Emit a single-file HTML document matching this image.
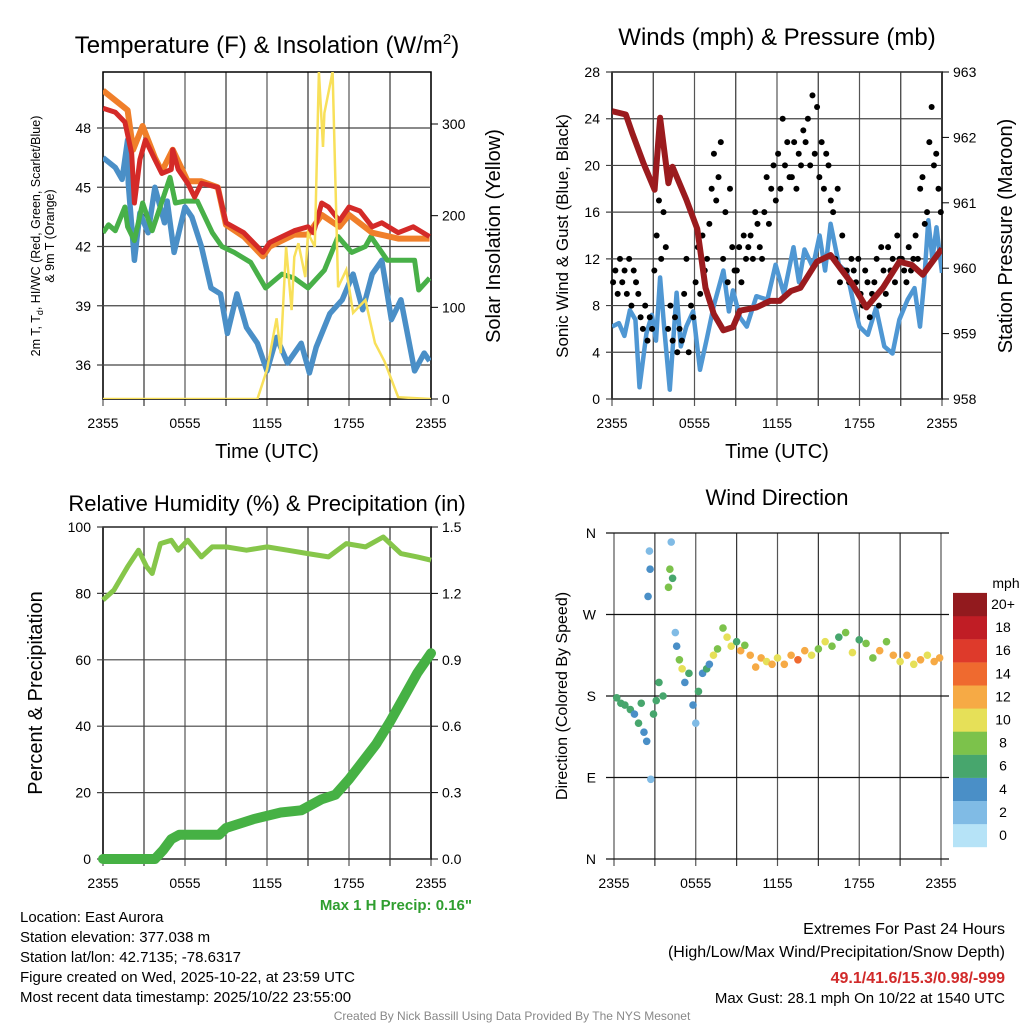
<!DOCTYPE html>
<html><head><meta charset="utf-8">
<style>
body{margin:0;background:#fff;}
svg{display:block;font-family:"Liberation Sans",sans-serif;}
</style></head>
<body>
<svg id="chart" width="1024" height="1024" xmlns="http://www.w3.org/2000/svg"></svg>
<script>
// ---------- DATA ----------
const timeTicks = ["2355","0555","1155","1755","2355"];
// Panel 1
const redHours = [0,0.9,1.6,2.1,2.3,2.7,3.1,3.8,4.3,5.0,5.1,5.5,6.2,6.7,7.2,8.4,9.0,10.3,11.7,12.2,14.0,15.0,15.4,16.0,16.5,17.3,18.0,18.8,19.7,20.4,21.6,22.7,23.9];
const tempRed = [49.0,48.8,48.3,46.7,44.2,46.4,47.4,46.4,45.7,45.9,46.9,45.9,45.2,44.5,45.2,45.0,43.2,42.7,41.7,42.2,42.8,43.0,42.7,44.2,44.0,43.3,44.0,43.8,43.0,43.2,42.7,43.0,42.5];
const orHours = [0,1.8,2.2,2.9,3.8,4.3,5.1,6.2,7.2,8.4,9.0,10.3,11.7,12.2,14.0,15.0,16.0,17.3,18.0,19.7,21.6,23.9];
const tempOrange = [49.9,48.9,46.9,48.1,46.5,45.8,46.9,45.3,45.3,45.0,43.1,42.5,41.5,42.0,42.6,42.6,43.6,43.0,43.6,42.7,42.4,42.4];
const greenHours = [0,0.4,0.9,1.6,1.8,2.3,2.9,3.6,4.9,5.3,6.0,6.9,8.0,8.7,9.6,10.8,11.9,13.1,14.0,15.0,16.2,17.2,18.2,19.2,19.6,20.8,22.8,23.1,23.9];
const dewGreen = [42.7,43.1,42.8,44.0,43.0,42.3,44.2,42.8,45.5,44.2,44.3,44.3,42.7,42.0,41.7,41.2,39.9,40.6,40.4,39.9,40.8,42.5,41.7,42.0,42.5,41.3,41.3,39.8,40.4];
const blueHours = [0,0.9,1.4,1.8,1.85,2.3,2.7,3.3,3.8,4.5,4.7,5.2,6.0,6.5,7.2,7.9,8.6,9.1,9.8,10.5,11.3,12.0,12.7,13.5,14.5,15.1,15.6,16.6,17.5,18.3,19.0,19.7,20.4,21.1,21.8,22.8,23.5,23.9];
const hiwcBlue = [46.5,46.0,45.4,47.4,45.2,41.3,43.7,42.7,45.0,43.2,44.3,41.7,44.0,43.5,42.0,39.9,39.6,37.6,39.6,37.9,37.1,35.7,37.4,36.1,37.1,35.6,36.9,38.6,39.3,40.6,38.8,40.6,41.3,38.3,39.3,35.7,36.6,36.2];
const solHours = [0,11.3,12.0,12.7,13.0,13.4,13.8,14.0,14.3,14.8,15.0,15.5,15.8,16.1,16.2,16.8,17.2,17.8,18.3,19.2,19.9,20.6,21.6,24.0];
const solar = [0,0,32,88,50,166,97,155,170,133,181,166,357,275,312,357,122,141,94,108,61,41,2,0];
// Panel 2
const windHours = [0,0.5,0.9,1.3,1.7,2.0,2.5,2.9,3.2,3.5,3.8,4.2,4.7,5.0,5.4,5.9,6.4,6.9,7.4,8.1,8.5,8.8,9.3,9.8,10.5,11.3,11.9,12.5,13.2,13.6,14.0,14.6,15.1,15.5,15.9,16.5,17.1,17.6,18.0,18.6,19.2,19.8,20.4,20.9,21.5,22.0,22.4,22.7,23.0,23.3,23.6,24.0];
const windSpd = [6.2,6.5,5.4,7.6,6.8,1.0,5.6,7.2,5.0,10.4,6.0,0.8,9.1,4.5,6.2,7.5,2.5,5.2,8.0,11.0,7.5,9.3,7.0,6.2,8.8,8.5,11.5,9.0,13.0,10.0,12.8,11.3,14.0,11.0,15.0,11.5,10.8,8.0,6.2,5.5,7.8,4.5,3.9,6.8,8.5,9.5,6.2,10.0,15.3,12.0,14.7,10.8];
const gust = [10,11,9,12,10,11, 9,12,8,11,10,9, 7,6,8,5,7,6, 11,14,17,12,16,13, 6,8,5,7,4,6, 5,9,12,4,8,7, 10,13,9,14,11,12, 15,18,21,17,19,22, 12,16,10,18,13,11, 11,13,10,14,12,13, 14,12,16,15,13,12, 16,19,15,18,20,17, 21,18,24,20,22,19, 19,22,18,21,20,23, 22,24,20,26,21,25, 19,22,18,21,20,17, 16,12,18,10,14,11, 11,10,12,11,10,12, 9,8,11,10,7,9, 10,12,8,13,11,9, 13,11,12,10,14,12, 12,11,10,13,11,12, 14,12,18,19,15,16, 22,25,20,21,18,16];
const presHours = [0,1.0,1.5,2.3,3.1,3.5,4.1,4.4,5.4,6.2,6.8,7.4,8.1,8.8,9.3,10.5,11.5,12.2,13.0,13.7,14.9,15.9,16.6,17.5,18.5,19.7,20.9,21.8,22.6,23.3,24.0];
const pressure = [962.4,962.35,962.05,961.6,961.2,962.3,961.3,961.55,961.05,960.6,959.7,959.3,959.05,959.1,959.35,959.4,959.5,959.5,959.65,959.7,960.1,960.2,960.0,959.75,959.4,959.7,960.1,960.05,959.9,960.1,960.3];
// Panel 3
const rhHours = [0,0.8,1.8,2.6,3.2,3.6,4.2,5.0,5.5,6.2,7.2,8.0,9.0,10.5,12.0,13.5,15.0,16.5,17.8,19.2,20.5,21.8,23.0,24.0];
const rh = [78,81,88,93,88,86,95,96,93,96,91,94,94,93,94,93,92,91,95,94,97,92,91,90];
const prHours = [0,3.8,4.4,5.0,5.6,6.5,8.5,9.0,11.0,13.0,14.5,16.0,17.0,18.0,19.0,20.0,21.0,22.0,23.0,24.0];
const precip = [0,0,0.04,0.09,0.11,0.11,0.11,0.14,0.18,0.21,0.22,0.27,0.29,0.36,0.44,0.52,0.62,0.73,0.84,0.93];
// Panel 4
const dirHours = [0.2,0.5,0.8,1.2,1.5,1.8,2.0,2.2,2.4,2.5,2.6,2.65,2.7,2.9,3.1,3.3,3.6,4.0,4.1,4.2,4.3,4.5,4.6,4.8,5.0,5.2,5.5,5.8,6.0,6.2,6.5,6.8,7.0,7.3,7.6,8.0,8.3,8.6,9.0,9.3,9.6,10.0,10.4,10.8,11.2,11.6,12.0,12.5,13.0,13.5,14.0,14.5,15.0,15.5,16.0,16.5,17.0,17.5,18.0,18.5,19.0,19.5,20.0,20.5,21.0,21.5,22.0,22.5,23.0,23.5,23.9];
const dirDeg = [178,172,170,165,160,150,172,140,130,290,340,320,88,160,175,195,180,300,320,350,310,250,235,220,210,195,205,170,150,185,205,210,215,225,232,255,245,235,240,230,236,225,212,222,218,215,222,215,225,220,230,225,232,240,235,245,250,228,242,238,222,230,240,225,218,225,215,220,225,218,222];
const dirSpd = [6,6,5,6,4,5,6,4,4,4,2,4,1,6,6,6,6,7,8,2,6,2,4,7,9,4,6,4,2,6,4,6,4,9,7,8,10,9,6,11,8,12,12,11,9,12,10,12,11,13,12,9,7,10,8,6,8,9,5,8,8,12,8,11,9,12,10,12,10,11,12];
const cbLabels = ["0","2","4","6","8","10","12","14","16","18","20+"];
const cbColors = ["#b6e3f7","#80bbe5","#4a8fc7","#47a66d","#7cc24b","#e6e058","#f6aa45","#ef6a2f","#de3a2b","#c01d25","#921a1e"];

// ---------- HELPERS ----------
const NS="http://www.w3.org/2000/svg";
const svg=document.getElementById('chart');
function el(tag,attrs,parent){const e=document.createElementNS(NS,tag);for(const k in attrs)e.setAttribute(k,attrs[k]);(parent||svg).appendChild(e);return e;}
function txt(s,x,y,size,anchor,extra){const t=el('text',Object.assign({x:x,y:y,'font-size':size,'text-anchor':anchor||'middle',fill:'#000'},extra||{}));t.textContent=s;return t;}
function lin(d0,d1,p0,p1){return v=>p0+(v-d0)/(d1-d0)*(p1-p0);}
function pathD(xs,ys,fx,fy){return xs.map((h,i)=>(i?'L':'M')+fx(h).toFixed(1)+','+fy(ys[i]).toFixed(1)).join('');}

function frame(x0,x1,y0,y1,name,box){
  const g=el('g',{});
  
  
  const fx=lin(0,24,x0,x1);
  for(let h=0;h<=24;h+=3){const l=el('line',{x1:fx(h),x2:fx(h),y1:y0,y2:y1+7,stroke:h%6==0?'#555':'#333','stroke-width':1.2},g);
    }
  timeTicks.forEach((s,i)=>{const t=txt(s,fx(i*6),y1+29,14);});
  if(box){const r=el('rect',{x:x0,y:y0,width:x1-x0,height:y1-y0,fill:'none',stroke:'#000','stroke-width':1.5},g);}
  return fx;
}
function yAxis(vals,fy,x0,x1,side,name,fmt){
  vals.forEach(v=>{
    if(side==='left'){const l=el('line',{x1:x0-6,x2:x1,y1:fy(v),y2:fy(v),stroke:'#444','stroke-width':1.2});
      const t=txt(fmt?fmt(v):String(v),x0-12,fy(v)+5,14,'end');}
    else{const l=el('line',{x1:x1,x2:x1+7,y1:fy(v),y2:fy(v),stroke:'#000','stroke-width':1});
      const t=txt(fmt?fmt(v):String(v),x1+11,fy(v)+5,14,'start');}
  });
}
function rotLabel(s,x,y,size,name){const t=txt(s,x,y,size,'middle',{transform:`rotate(-90 ${x} ${y})`});return t;}

// ---------- PANEL 1 ----------
{
const X0=103,X1=431,Y0=72,Y1=399;
const fx=frame(X0,X1,Y0,Y1,'temperature-panel',true);
const fy=lin(36,48,365,128), fs=lin(0,300,399,124);
yAxis([36,39,42,45,48],fy,X0,X1,'left','temp-tick-label');
yAxis([0,100,200,300],fs,X0,X1,'right','solar-tick-label');
el('clipPath',{id:'c1'}).appendChild(el('rect',{x:X0,y:Y0,width:X1-X0,height:Y1-Y0}));
const series=[[blueHours,hiwcBlue,'#4a8fc7',5.5,'hiwc-line'],[greenHours,dewGreen,'#48b048',5,'dewpoint-line'],[orHours,tempOrange,'#f07f2a',6,'temp-9m-line'],[redHours,tempRed,'#d42a28',5,'temp-2m-line']];
series.forEach(s=>{const p=el('path',{d:pathD(s[0],s[1],fx,fy),fill:'none',stroke:s[2],'stroke-width':s[3],'stroke-linejoin':'round','clip-path':'url(#c1)'});});
const ps=el('path',{d:pathD(solHours,solar,fx,fs),fill:'none',stroke:'#f8e05a','stroke-width':2.5,'clip-path':'url(#c1)'});

const t1=el('text',{x:267,y:53,'font-size':24,'text-anchor':'middle'});t1.innerHTML='Temperature (F) &amp; Insolation (W/m<tspan dy="-9" font-size="15">2</tspan><tspan dy="9">)</tspan>';

const la=el('text',{x:40,y:236,'font-size':12.5,'text-anchor':'middle',transform:'rotate(-90 40 236)'});la.innerHTML='2m T, T<tspan dy="3" font-size="9">d</tspan><tspan dy="-3">, HI/WC (Red, Green, Scarlet/Blue)</tspan>';

rotLabel('& 9m T (Orange)',54,236,12.5,'temp-y-axis-title-2');
rotLabel('Solar Insolation (Yellow)',500,236,20,'solar-y-axis-title');
const xl=txt('Time (UTC)',267,458,20);
}
// ---------- PANEL 2 ----------
{
const X0=612,X1=942,Y0=72,Y1=399;
const fx=frame(X0,X1,Y0,Y1,'wind-panel',true);
const fy=lin(0,28,399,72), fp=lin(958,963,399,72);
yAxis([0,4,8,12,16,20,24,28],fy,X0,X1,'left','wind-tick-label');
yAxis([958,959,960,961,962,963],fp,X0,X1,'right','pressure-tick-label');
el('clipPath',{id:'c2'}).appendChild(el('rect',{x:X0,y:Y0,width:X1-X0,height:Y1-Y0}));
const pw=el('path',{d:pathD(windHours,windSpd,fx,fy),fill:'none',stroke:'#4f97d3','stroke-width':4.5,'stroke-linejoin':'round','clip-path':'url(#c2)'});

gust.forEach((g,i)=>{const c=el('circle',{cx:fx(i/6+0.08),cy:fy(g),r:3,fill:'#000'});});
const pp=el('path',{d:pathD(presHours,pressure,fx,fp),fill:'none',stroke:'#9b1b1e','stroke-width':6,'stroke-linejoin':'round','clip-path':'url(#c2)'});

const t=txt('Winds (mph) & Pressure (mb)',777,45,24);
rotLabel('Sonic Wind & Gust (Blue, Black)',568,236,17,'wind-y-axis-title');
rotLabel('Station Pressure (Maroon)',1012,236,20,'pressure-y-axis-title');
const xl=txt('Time (UTC)',777,458,20);
}
// ---------- PANEL 3 ----------
{
const X0=103,X1=431,Y0=527,Y1=859;
const fx=frame(X0,X1,Y0,Y1,'humidity-panel',true);
const fy=lin(0,100,859,527), fr=lin(0,1.5,859,527);
yAxis([0,20,40,60,80,100],fy,X0,X1,'left','rh-tick-label');
yAxis([0,0.3,0.6,0.9,1.2,1.5],fr,X0,X1,'right','precip-tick-label',v=>v.toFixed(1));
const pr=el('path',{d:pathD(rhHours,rh,fx,fy),fill:'none',stroke:'#86c64a','stroke-width':5,'stroke-linejoin':'round'});

const pp=el('path',{d:pathD(prHours,precip,fx,fr),fill:'none',stroke:'#46b144','stroke-width':10,'stroke-linejoin':'round','stroke-linecap':'round'});

const t=txt('Relative Humidity (%) & Precipitation (in)',267,511,22);
rotLabel('Percent & Precipitation',42,693,20,'rh-y-axis-title');
const m=txt('Max 1 H Precip: 0.16"',472,910,15,'end',{'font-weight':'bold',fill:'#2f9e2f'});
}
// ---------- PANEL 4 ----------
{
const X0=614,X1=941,Y0=533,Y1=859;
const fx=frame(X0,X1,Y0,Y1,'wind-direction-panel',false);
const fy=lin(0,360,859,533);
[0,90,180,270,360].forEach((v,i)=>{const l=el('line',{x1:X0-8,x2:X1+8,y1:fy(v),y2:fy(v),stroke:'#111','stroke-width':1.2});
  const t=txt(['N','E','S','W','N'][i],X0-18,fy(v)+5,14,'end');});
dirHours.forEach((h,i)=>{const k=Math.min(10,Math.round(dirSpd[i]/2));const c=el('circle',{cx:fx(h),cy:fy(dirDeg[i]),r:3.8,fill:cbColors[k]});});
const t=txt('Wind Direction',777,505,22);
rotLabel('Direction (Colored By Speed)',567,696,16,'direction-y-axis-title');
cbColors.forEach((c,i)=>{const r=el('rect',{x:953,y:847-(i+1)*23.1,width:34,height:23.3,fill:c});
  const l=txt(cbLabels[i],1003,847-i*23.1-7,14);});
const u=txt('mph',1006,588,14);
}
// ---------- FOOTER TEXT ----------
["Location: East Aurora","Station elevation: 377.038 m","Station lat/lon: 42.7135; -78.6317","Figure created on Wed, 2025-10-22, at 23:59 UTC","Most recent data timestamp: 2025/10/22 23:55:00"].forEach((s,i)=>{const t=txt(s,20,922+i*20,15,'start');});
const r1=txt('Extremes For Past 24 Hours',1005,934,16,'end');
const r2=txt('(High/Low/Max Wind/Precipitation/Snow Depth)',1005,957,16,'end');
const r3=txt('49.1/41.6/15.3/0.98/-999',1005,983,16,'end',{'font-weight':'bold',fill:'#d12a2a'});
const r4=txt('Max Gust: 28.1 mph On 10/22 at 1540 UTC',1005,1003,15,'end');
const cr=txt('Created By Nick Bassill Using Data Provided By The NYS Mesonet',512,1020,12,'middle',{fill:'#888'});
</script>
</body></html>
